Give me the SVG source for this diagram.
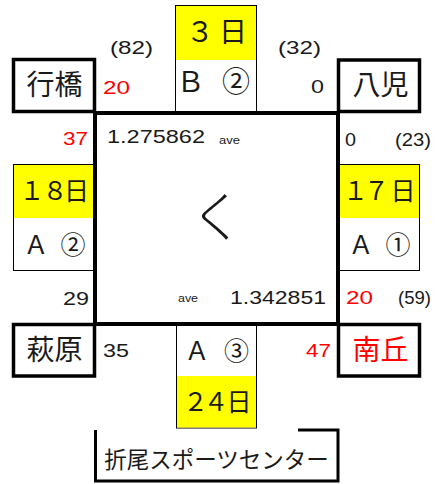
<svg xmlns="http://www.w3.org/2000/svg" width="438" height="484" viewBox="0 0 438 484">
<style>
.st{fill:#fff;stroke:#000;stroke-width:3.5}
.bx{fill:#fff;stroke:#000;stroke-width:1}
.yl{fill:#ffff00}
.jp{font-family:"Noto Sans CJK JP","Noto Sans CJK SC",sans-serif;fill:#1a1a1a}
.lb{font-size:25px;text-anchor:middle}
.lg{font-size:28px}
.nm{font-size:28px;text-anchor:middle}
.n{font-family:"Liberation Sans",Arial,sans-serif;font-size:19px;fill:#1a1a1a}
.r{fill:#ff0000}
.sm{font-family:"Liberation Sans",Arial,sans-serif;font-size:10px;fill:#1a1a1a}
</style>
<rect width="438" height="484" fill="#fff"/>
<g id="top-slot">
<rect class="bx" x="175.5" y="5.5" width="81" height="106"/>
<rect class="yl" x="176" y="6" width="80" height="54"/>
<text class="jp lb lg" x="200 233" y="42">３日</text>
<text class="jp lb lg" x="190.5 236" y="92">Ｂ②</text>
</g>
<g id="left-slot">
<rect class="bx" x="13.5" y="164.5" width="81" height="106"/>
<rect class="yl" x="14" y="165" width="80" height="53"/>
<text class="jp lb" x="32 55 76.5" y="199.5">１８日</text>
<text class="jp lb" x="36 73" y="254">Ａ②</text>
</g>
<g id="right-slot">
<rect class="bx" x="338.5" y="164.5" width="81" height="106"/>
<rect class="yl" x="339" y="165" width="80" height="53"/>
<text class="jp lb" x="355.5 376.5 403" y="199.5">１７日</text>
<text class="jp lb" x="361 398" y="254">Ａ①</text>
</g>
<g id="bottom-slot">
<rect class="bx" x="176.5" y="322.5" width="80" height="105.5"/>
<rect class="yl" x="177" y="376" width="79" height="51.5"/>
<text class="jp lb" x="197 236.5" y="359.5">Ａ③</text>
<text class="jp lb" x="195.5 216 239" y="411">２４日</text>
</g>
<g id="route">
<rect x="95" y="113" width="243" height="211" fill="none" stroke="#000" stroke-width="4"/>
</g>
<g id="station-yukuhashi">
<rect class="st" x="13.5" y="59.5" width="81" height="52"/>
<text class="jp nm" x="54.5" y="95">行橋</text>
</g>
<g id="station-yaji">
<rect class="st" x="338.5" y="60" width="81" height="51.5"/>
<text class="jp nm" x="380.5" y="95">八児</text>
</g>
<g id="station-hagiwara">
<rect class="st" x="13.5" y="324.5" width="81" height="51.5"/>
<text class="jp nm" x="54.5" y="360">萩原</text>
</g>
<g id="station-minamioka">
<rect class="st" x="338.5" y="324.5" width="81" height="51.5"/>
<text class="jp nm r" x="380.5" y="360">南丘</text>
</g>
<g id="center">
<text class="jp" x="217" y="237" font-size="54" text-anchor="middle" font-weight="300">く</text>
<text class="n" x="107" y="143" textLength="98" lengthAdjust="spacingAndGlyphs">1.275862</text>
<text class="sm" x="219" y="144" textLength="21" lengthAdjust="spacingAndGlyphs">ave</text>
<text class="sm" x="178" y="302" textLength="20" lengthAdjust="spacingAndGlyphs">ave</text>
<text class="n" x="230" y="304" textLength="96" lengthAdjust="spacingAndGlyphs">1.342851</text>
</g>
<g id="counts">
<text class="n" x="110" y="54" textLength="43" lengthAdjust="spacingAndGlyphs">(82)</text>
<text class="n r" x="103" y="94" textLength="27" lengthAdjust="spacingAndGlyphs">20</text>
<text class="n" x="278" y="54" textLength="43" lengthAdjust="spacingAndGlyphs">(32)</text>
<text class="n" x="311" y="92.5" textLength="13" lengthAdjust="spacingAndGlyphs">0</text>
<text class="n r" x="63" y="144.5" textLength="25" lengthAdjust="spacingAndGlyphs">37</text>
<text class="n" x="345" y="146" textLength="11" lengthAdjust="spacingAndGlyphs">0</text>
<text class="n" x="395" y="146" textLength="36" lengthAdjust="spacingAndGlyphs">(23)</text>
<text class="n" x="63" y="304.5" textLength="26" lengthAdjust="spacingAndGlyphs">29</text>
<text class="n r" x="346" y="304" textLength="27" lengthAdjust="spacingAndGlyphs">20</text>
<text class="n" x="398" y="304" textLength="33" lengthAdjust="spacingAndGlyphs">(59)</text>
<text class="n" x="103" y="356.5" textLength="26" lengthAdjust="spacingAndGlyphs">35</text>
<text class="n r" x="306" y="356.5" textLength="25" lengthAdjust="spacingAndGlyphs">47</text>
</g>
<g id="venue">
<path d="M95.5 430 V481 H338 V430 H298" fill="none" stroke="#000" stroke-width="3"/>
<text class="jp" x="216.5" y="468" font-size="22.5" text-anchor="middle">折尾スポーツセンター</text>
</g>
</svg>
